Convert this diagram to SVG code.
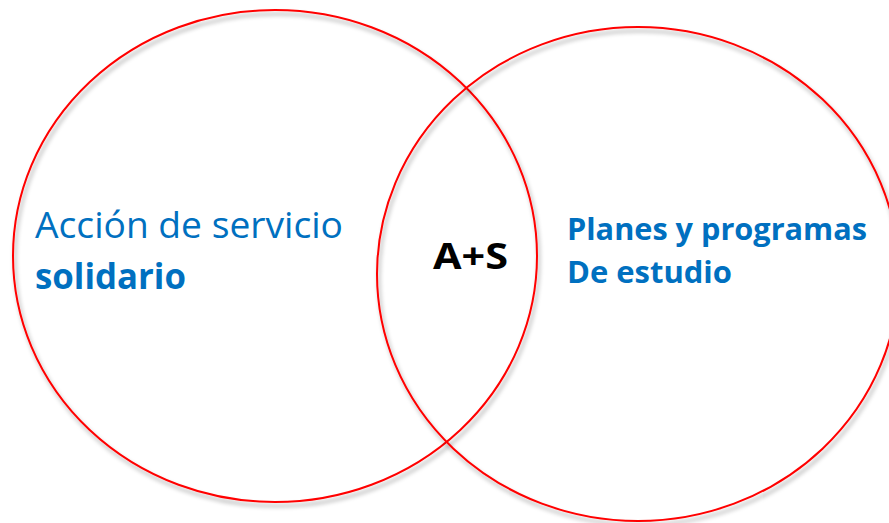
<svg xmlns="http://www.w3.org/2000/svg" width="889" height="523" viewBox="0 0 889 523">
<defs>
<filter id="sh" x="-10%" y="-10%" width="120%" height="125%">
<feDropShadow dx="2" dy="4" stdDeviation="2.2" flood-color="#000" flood-opacity="0.35"/>
</filter>
<style>
.c{fill:none;stroke:#ff0000;stroke-width:2}
.t{font-family:"Open Sans","Liberation Sans",sans-serif;fill:#0070c0}
.b{font-weight:bold}
</style>
</defs>
<rect width="889" height="523" fill="#fff"/>
<g id="circle-left" filter="url(#sh)"><ellipse class="c" cx="275" cy="256" rx="262" ry="246"/></g>
<g id="circle-right" filter="url(#sh)"><ellipse class="c" cx="638" cy="274" rx="261" ry="247"/></g>
<g id="connectors"/>
<g id="label-left">
<text class="t" x="35" y="238" font-size="36" textLength="308" lengthAdjust="spacingAndGlyphs">Acción de servicio</text>
<text class="t b" x="35" y="289" font-size="36" textLength="151" lengthAdjust="spacingAndGlyphs">solidario</text>
</g>
<g id="label-center">
<text x="433" y="269" font-family="'Open Sans','Liberation Sans',sans-serif" font-weight="bold" font-size="36" fill="#000" textLength="75" lengthAdjust="spacingAndGlyphs">A+S</text>
</g>
<g id="label-right">
<text class="t b" x="567" y="240" font-size="30" textLength="300" lengthAdjust="spacingAndGlyphs">Planes y programas</text>
<text class="t b" x="567" y="283" font-size="30" textLength="165" lengthAdjust="spacingAndGlyphs">De estudio</text>
</g>
</svg>
